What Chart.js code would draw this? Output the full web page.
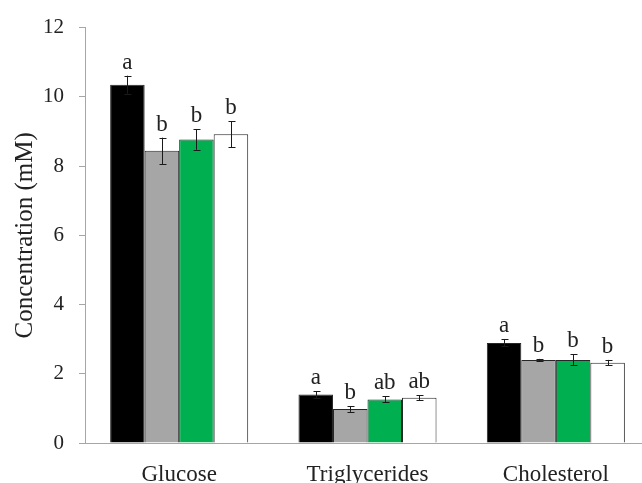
<!DOCTYPE html>
<html>
<head>
<meta charset="utf-8">
<script src="https://cdn.jsdelivr.net/npm/chart.js@4/dist/chart.umd.min.js"></script>
<style>
  html, body { margin: 0; padding: 0; background: #fff; overflow: hidden; }
  .chart-box { width: 652px; height: 483px; }
</style>
</head>
<body>
<div class="chart-box"><canvas id="myChart"></canvas></div>
<script>
// values
const categories = ['Glucose', 'Triglycerides', 'Cholesterol']
const blackValues = [10.35, 1.40, 2.89]
const grayValues = [8.44, 0.98, 2.40]
const greenValues = [8.77, 1.26, 2.40]
const whiteValues = [8.92, 1.31, 2.32]

// +/- error per bar
const blackErr = [0.26, 0.10, 0.10]
const grayErr = [0.38, 0.08, 0.03]
const greenErr = [0.30, 0.09, 0.16]
const whiteErr = [0.37, 0.07, 0.08]

// significance letters above each bar
const blackLetters = ['a', 'a', 'a']
const grayLetters = ['b', 'b', 'b']
const greenLetters = ['b', 'ab', 'b']
const whiteLetters = ['b', 'ab', 'b']

const yTicks = [0, 2, 4, 6, 8, 10, 12]

const serif = '"Liberation Serif", "Times New Roman", serif'
const axisGray = '#a6a6a6'

function makeSet(label, data, err, letters, fill) {
  return {
    label: label,
    data: data,
    err: err,
    letters: letters,
    backgroundColor: fill,
    borderColor: '#262626',
    borderWidth: 1,
    barPercentage: 1,
    categoryPercentage: 0.733
  }
}

// draws error bars and the letters on top of them
const errorBarPlugin = {
  id: 'errorBars',
  afterDatasetsDraw(chart) {
    const ctx = chart.ctx
    const y = chart.scales.y
    ctx.save()
    chart.data.datasets.forEach((ds, i) => {
      const meta = chart.getDatasetMeta(i)
      meta.data.forEach((bar, j) => {
        const v = ds.data[j]
        const e = ds.err[j]
        const top = y.getPixelForValue(v + e)
        const bottom = y.getPixelForValue(v - e)
        const x = Math.round(bar.x) + 0.5
        ctx.strokeStyle = '#1a1a1a'
        ctx.lineWidth = 1
        ctx.beginPath()
        ctx.moveTo(x, top)
        ctx.lineTo(x, bottom)
        ctx.moveTo(x - 3, Math.round(top) + 0.5)
        ctx.lineTo(x + 4, Math.round(top) + 0.5)
        ctx.moveTo(x - 3, Math.round(bottom) + 0.5)
        ctx.lineTo(x + 4, Math.round(bottom) + 0.5)
        ctx.stroke()

        ctx.fillStyle = '#222'
        ctx.font = '23px ' + serif
        ctx.textAlign = 'center'
        ctx.textBaseline = 'alphabetic'
        ctx.fillText(ds.letters[j], bar.x, top - 7)
      })
    })
    ctx.restore()
  }
}

const myChart = new Chart(document.querySelector('#myChart'), {
  type: 'bar',
  data: {
    labels: categories,
    datasets: [
      makeSet('Group 1', blackValues, blackErr, blackLetters, '#000000'),
      makeSet('Group 2', grayValues, grayErr, grayLetters, '#a6a6a6'),
      makeSet('Group 3', greenValues, greenErr, greenLetters, '#00b050'),
      makeSet('Group 4', whiteValues, whiteErr, whiteLetters, '#ffffff')
    ]
  },
  options: {
    responsive: true,
    maintainAspectRatio: false,
    animation: false,
    layout: { padding: { top: 23, right: 2, left: 0, bottom: 0 } },
    plugins: {
      legend: { display: false },
      tooltip: { enabled: false }
    },
    scales: {
      x: {
        grid: { display: false },
        border: { display: true, color: axisGray, width: 1 },
        ticks: {
          color: '#222',
          padding: 10,
          font: { family: serif, size: 23 }
        },
        afterFit: (s) => { s.height = 40 }
      },
      y: {
        min: 0,
        max: 12,
        afterBuildTicks: (s) => { s.ticks = yTicks.map(v => ({ value: v })) },
        grid: {
          drawOnChartArea: false,
          drawTicks: true,
          tickLength: 6,
          color: axisGray
        },
        border: { display: true, color: axisGray, width: 1 },
        ticks: {
          color: '#222',
          padding: 15,
          font: { family: serif, size: 21 }
        },
        title: {
          display: true,
          text: 'Concentration (mM)',
          color: '#222',
          font: { family: serif, size: 25 },
          padding: { top: 10, bottom: 0 }
        },
        afterFit: (s) => { s.width = 85 }
      }
    }
  },
  plugins: [errorBarPlugin]
})
</script>
</body>
</html>
